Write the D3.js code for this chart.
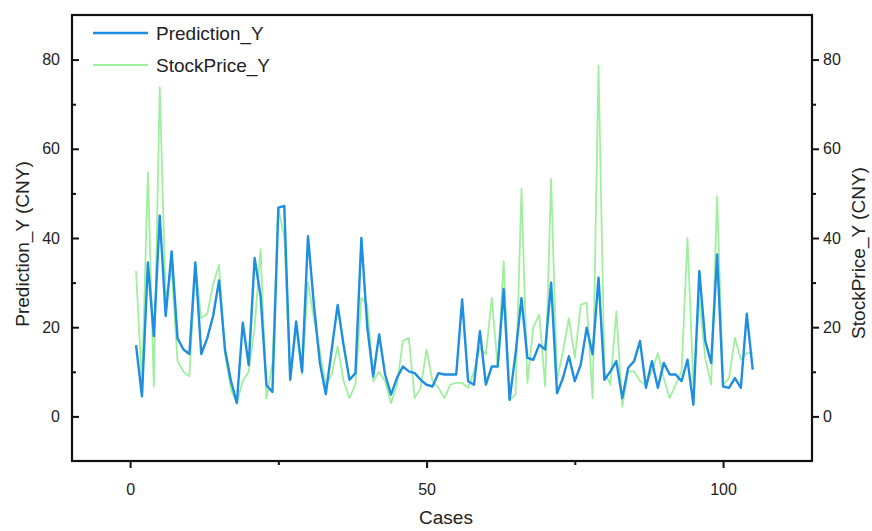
<!DOCTYPE html>
<html>
<head>
<meta charset="utf-8">
<script src="https://cdn.jsdelivr.net/npm/d3@7"></script>
<style>
  html, body { margin: 0; padding: 0; background: #fff; }
  svg { display: block; font-family: "Liberation Sans", Arial, sans-serif; }
</style>
</head>
<body>
<svg id="chart" width="872" height="531"></svg>
<script>
// ---- data ----
const cases = d3.range(1, 106);
const predictionY = [
  16, 4.5, 34.5, 18, 45, 22.5, 37, 17.5, 15, 14,
  34.5, 14, 17.5, 22.5, 30.5, 15, 8, 3, 21, 11.5,
  35.5, 27, 7, 5.5, 46.8, 47.2, 8.2, 21.3, 10, 40.4,
  25, 12, 5, 15, 25, 16, 8.2, 9.7, 40, 20,
  9, 18.4, 9.4, 4.9, 8.6, 11.2, 10.1, 9.7, 8.2, 7.1,
  6.7, 9.7, 9.4, 9.4, 9.4, 26.2, 7.9, 7.1, 19.1, 7.1,
  11.2, 11.2, 28.5, 3.7, 14, 26.5, 13.1, 12.7, 16.1, 15,
  30, 5.2, 8.6, 13.5, 7.9, 11.6, 19.9, 13.9, 31.1, 8.2,
  10.1, 12.4, 4.1, 10.9, 12.4, 16.9, 6.4, 12.4, 6.4, 12,
  9.4, 9.4, 7.9, 12.7, 2.6, 32.6, 16.9, 12, 36.3, 6.7,
  6.4, 8.6, 6.4, 23, 10.5
];
const stockPriceY = [
  32.6, 7.1, 54.7, 6.7, 73.8, 26, 33, 12.4, 10, 9,
  34, 22, 23, 29.6, 34, 14, 6, 3, 8, 10,
  20, 37.5, 4, 12, 46.8, 40, 8, 20, 9.4, 30,
  22, 14.6, 7.1, 9.4, 15.7, 7.9, 4.1, 7.1, 26.6, 25,
  7.9, 10, 7.9, 3, 7, 16.9, 17.6, 4.1, 6.4, 15,
  7.9, 6.4, 4.1, 7.1, 7.5, 7.5, 6.4, 10.1, 15.4, 13.9,
  26.6, 10.9, 34.8, 3.7, 4.9, 51, 7.5, 20, 22.8, 6.7,
  53.2, 8.2, 14.6, 22, 13.1, 25, 25.5, 4.1, 78.7, 10,
  7.1, 23.6, 2.2, 10.1, 10.1, 7.9, 7.1, 10.1, 14.2, 8.6,
  4.1, 7.1, 10.1, 40, 7, 26.6, 13, 7.1, 49.4, 7.1,
  8.6, 17.6, 12.7, 14.2, 14.2
];
const xTicks = [0, 50, 100];
const xMinorTicks = [25, 75];
const yTicks = [0, 20, 40, 60, 80];
const yMinorTicks = [10, 30, 50, 70];
const seriesNames = ["Prediction_Y", "StockPrice_Y"];
const xTitle = "Cases";
const yLeftTitle = "Prediction_Y (CNY)";
const yRightTitle = "StockPrice_Y (CNY)";

// ---- layout ----
const L = 72, R = 812, T = 15, B = 461;
const svg = d3.select("#chart");
const x = d3.scaleLinear().domain([-9.8, 115]).range([L, R]);
const y = d3.scaleLinear().domain([-10, 90]).range([B, T]);

const blue = "#1e8ee0";
const green = "#9fef9f";

// lines
const line = vals => d3.line().x((d, i) => x(cases[i])).y(d => y(d))(vals);
svg.append("path").attr("d", line(stockPriceY)).attr("fill", "none")
  .attr("stroke", green).attr("stroke-width", 1.8).attr("stroke-linejoin", "round");
svg.append("path").attr("d", line(predictionY)).attr("fill", "none")
  .attr("stroke", blue).attr("stroke-width", 2.4).attr("stroke-linejoin", "round");

// frame
svg.append("rect").attr("x", L).attr("y", T).attr("width", R - L).attr("height", B - T)
  .attr("fill", "none").attr("stroke", "#111").attr("stroke-width", 2.2);

// axes
const styleAxis = g => {
  g.select(".domain").remove();
  g.selectAll(".tick line").attr("stroke", "#111").attr("stroke-width", 2);
  g.selectAll(".tick text").attr("fill", "#222").style("font-size", "16px");
};
svg.append("g").attr("transform", `translate(0,${B})`)
  .call(d3.axisBottom(x).tickValues(xTicks).tickSize(7).tickPadding(16).tickFormat(d3.format("d")))
  .call(styleAxis);
svg.append("g").attr("transform", `translate(0,${B})`)
  .call(d3.axisBottom(x).tickValues(xMinorTicks).tickSize(4).tickFormat(""))
  .call(styleAxis);

svg.append("g").attr("transform", `translate(${L},0)`)
  .call(d3.axisRight(y).tickValues(yTicks).tickSize(7).tickFormat(""))
  .call(styleAxis);
svg.append("g").attr("transform", `translate(${L},0)`)
  .call(d3.axisRight(y).tickValues(yMinorTicks).tickSize(4).tickFormat(""))
  .call(styleAxis);
svg.append("g").attr("transform", `translate(${L},0)`)
  .call(d3.axisLeft(y).tickValues(yTicks).tickSize(0).tickPadding(12).tickFormat(d3.format("d")))
  .call(styleAxis);

svg.append("g").attr("transform", `translate(${R},0)`)
  .call(d3.axisRight(y).tickValues(yTicks).tickSize(7).tickPadding(4).tickFormat(d3.format("d")))
  .call(styleAxis);
svg.append("g").attr("transform", `translate(${R},0)`)
  .call(d3.axisRight(y).tickValues(yMinorTicks).tickSize(4).tickFormat(""))
  .call(styleAxis);

// titles
svg.append("text").attr("x", (L + R) / 2 + 4).attr("y", 524).attr("text-anchor", "middle")
  .style("font-size", "19px").attr("fill", "#222").text(xTitle);
svg.append("text").attr("transform", `translate(29,${(T + B) / 2 + 6}) rotate(-90)`)
  .attr("text-anchor", "middle").style("font-size", "19px").attr("fill", "#222").text(yLeftTitle);
svg.append("text").attr("transform", `translate(865,${(T + B) / 2 + 15}) rotate(-90)`)
  .attr("text-anchor", "middle").style("font-size", "19px").attr("fill", "#222").text(yRightTitle);

// legend
const legend = svg.append("g");
[[seriesNames[0], blue, 2.4, 33], [seriesNames[1], green, 1.8, 65]].forEach(([name, c, w, yy]) => {
  legend.append("line").attr("x1", 93).attr("x2", 148).attr("y1", yy).attr("y2", yy)
    .attr("stroke", c).attr("stroke-width", w);
  legend.append("text").attr("x", 156).attr("y", yy).attr("dy", "0.35em")
    .style("font-size", "19px").attr("fill", "#222").text(name);
});
</script>
</body>
</html>
